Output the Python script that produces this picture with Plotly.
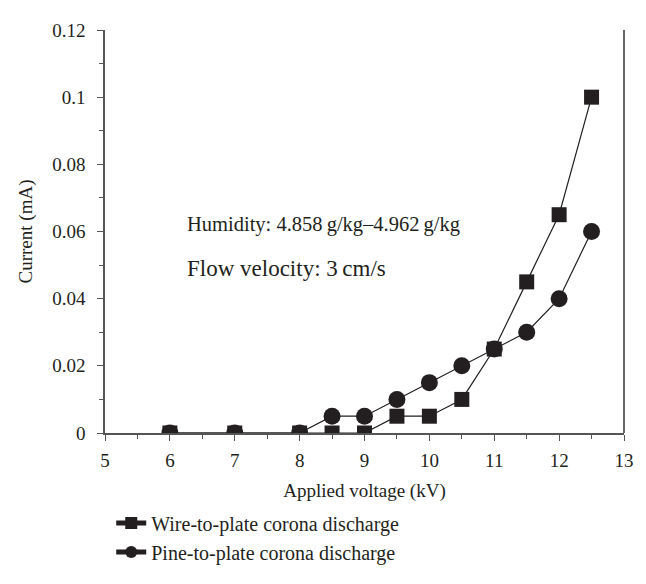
import plotly.graph_objects as go

voltage = [6, 7, 8, 8.5, 9, 9.5, 10, 10.5, 11, 11.5, 12, 12.5]
wire_current = [0, 0, 0, 0, 0, 0.005, 0.005, 0.01, 0.025, 0.045, 0.065, 0.1]
pine_current = [0, 0, 0, 0.005, 0.005, 0.01, 0.015, 0.02, 0.025, 0.03, 0.04, 0.06]
series_names = ["Wire-to-plate corona discharge", "Pine-to-plate corona discharge"]
y_ticks = [0, 0.02, 0.04, 0.06, 0.08, 0.1, 0.12]
y_ticktext = ["0", "0.02", "0.04", "0.06", "0.08", "0.1", "0.12"]

FONT = "Liberation Serif"
C = "#231f20"
AX = "#555555"

fig = go.Figure()
fig.add_trace(go.Scatter(x=voltage, y=wire_current, mode="lines+markers", name=series_names[0],
                         line=dict(color=C, width=1.2),
                         marker=dict(symbol="square", size=15, color=C)))
fig.add_trace(go.Scatter(x=voltage, y=pine_current, mode="lines+markers", name=series_names[1],
                         line=dict(color=C, width=1.2),
                         marker=dict(symbol="circle", size=17, color=C)))

fig.update_layout(
    width=638, height=576,
    margin=dict(l=97, r=20, t=12, b=132),
    paper_bgcolor="white", plot_bgcolor="white",
    font=dict(family=FONT, size=19, color=C),
    showlegend=True,
    legend=dict(x=0.012, y=-0.175, xanchor="left", yanchor="top", font=dict(size=20),
                tracegroupgap=0, itemsizing="constant", bgcolor="rgba(0,0,0,0)"),
    xaxis=dict(range=[5, 13], dtick=1, tick0=5, showgrid=False, zeroline=False,
               showline=True, linecolor=AX, linewidth=1.5, mirror=False,
               ticks="outside", ticklen=6, tickcolor=AX, ticklabelstandoff=3,
               minor=dict(dtick=0.5, ticks="outside", ticklen=4, tickcolor=AX),
               title=dict(text="Applied voltage (kV)", standoff=14, font=dict(size=19))),
    yaxis=dict(range=[0, 0.12], showgrid=False, zeroline=False,
               showline=True, linecolor=AX, linewidth=1.5,
               ticks="outside", ticklen=6, tickcolor=AX, ticklabelstandoff=8,
               tickvals=y_ticks, ticktext=y_ticktext,
               minor=dict(dtick=0.01, ticks="outside", ticklen=4, tickcolor=AX),
               title=dict(text="Current (mA)", standoff=15, font=dict(size=19))),
)

# right border line
fig.add_shape(type="line", xref="paper", yref="paper", x0=1, x1=1, y0=0, y1=1,
              line=dict(color="#333", width=1.5))

fig.add_annotation(x=6.23, y=0.062, xref="x", yref="y", xanchor="left", yanchor="middle",
                   text="Humidity: 4.858\u2009g/kg\u20134.962\u2009g/kg", showarrow=False,
                   font=dict(size=20.5, family=FONT, color=C))
fig.add_annotation(x=6.23, y=0.049, xref="x", yref="y", xanchor="left", yanchor="middle",
                   text="Flow velocity: 3\u2009cm/s", showarrow=False,
                   font=dict(size=23, family=FONT, color=C))

fig.write_html("out.html")
